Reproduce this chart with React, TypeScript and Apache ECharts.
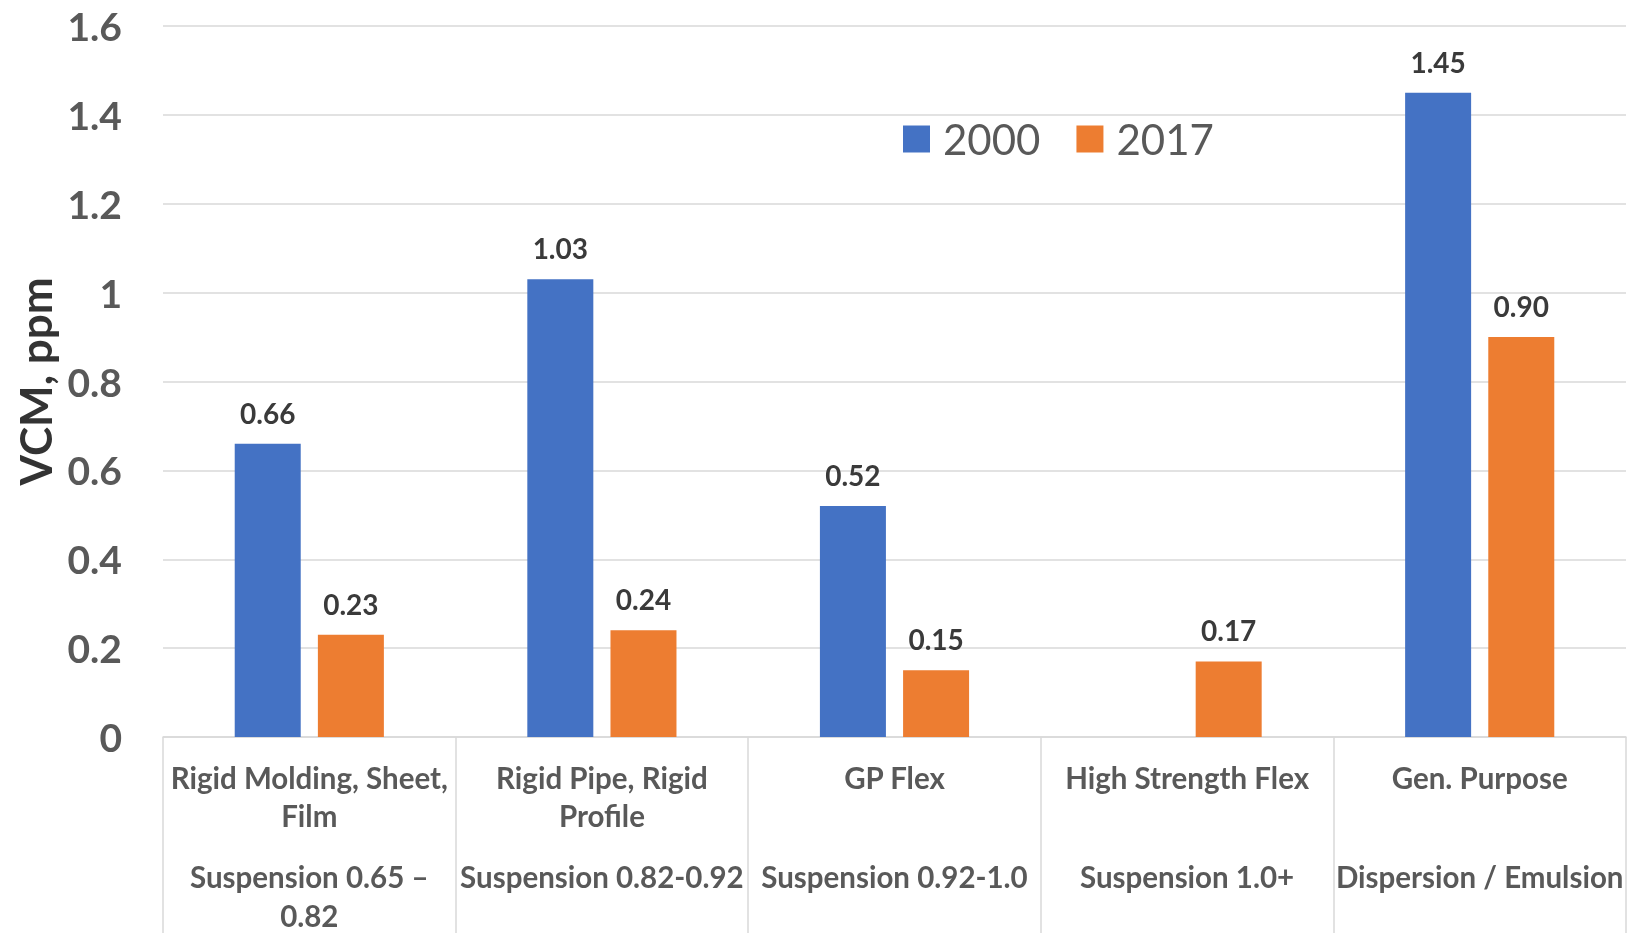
import React, { useEffect, useRef } from "react";
import * as echarts from "echarts";

const productLines: string[][] = [
  ["Rigid Molding, Sheet,", "Film"],
  ["Rigid Pipe, Rigid", "Profile"],
  ["GP Flex"],
  ["High Strength Flex"],
  ["Gen. Purpose"],
];
const processTypes: string[][] = [
  ["Suspension 0.65 –", "0.82"],
  ["Suspension 0.82-0.92"],
  ["Suspension 0.92-1.0"],
  ["Suspension 1.0+"],
  ["Dispersion / Emulsion"],
];
const series2000: (number | null)[] = [0.66, 1.03, 0.52, null, 1.45];
const series2017: (number | null)[] = [0.23, 0.24, 0.15, 0.17, 0.9];
const yTicks = { min: 0, max: 1.6, interval: 0.2 };

const FONT = "Lato";

export default function App() {
  const ref = useRef<HTMLDivElement>(null);
  useEffect(() => {
    document.body.style.margin = "0";
    if (!ref.current) return;
    const chart = echarts.init(ref.current, null, { renderer: "svg" });
    const categories = productLines.map((l) => l.join(" "));
    const labelStyle = {
      color: "#3a3a3a",
      fontFamily: FONT,
      fontWeight: "bold" as const,
      fontSize: 28,
      position: "top" as const,
      distance: 17,
      formatter: (p: any) => (p.value == null ? "" : Number(p.value).toFixed(2)),
      show: true,
    };
    chart.setOption({
      animation: false,
      grid: { left: 163, right: 6, top: 26, bottom: 196, containLabel: false, outerBoundsMode: "none" },
      legend: {
        left: 898,
        top: 113,
        itemWidth: 27,
        itemHeight: 27,
        itemGap: 36,
        textStyle: { fontFamily: FONT, fontSize: 42, color: "#595959", padding: [0, 0, 0, 8] },
        data: ["2000", "2017"],
        icon: "rect",
      },
      xAxis: {
        type: "category",
        data: categories,
        axisLine: { lineStyle: { color: "#d9d9d9", width: 1.5 } },
        axisTick: { show: true, interval: 0, length: 210, lineStyle: { color: "#d9d9d9", width: 1.5 } },
        axisLabel: {
          interval: 0,
          margin: 21,
          verticalAlign: "top",
          formatter: (_v: string, i: number) => {
            const l1 = productLines[i].slice();
            while (l1.length < 2) l1.push(" ");
            const l2 = processTypes[i];
            return [
              ...l1.map((t) => `{a|${t}}`),
              `{s| }`,
              ...l2.map((t) => `{a|${t}}`),
            ].join("\n");
          },
          rich: {
            a: { fontFamily: FONT, fontWeight: "bold", fontSize: 29.5, lineHeight: 38.5, color: "#595959" },
            s: { fontSize: 1, lineHeight: 22.5 },
          },
        },
      },
      yAxis: {
        type: "value",
        min: yTicks.min,
        max: yTicks.max,
        interval: yTicks.interval,
        name: "VCM, ppm",
        nameLocation: "middle",
        nameGap: 106,
        nameTextStyle: { fontFamily: FONT, fontWeight: "bold", fontSize: 44, color: "#333333" },
        axisLine: { show: false },
        axisTick: { show: false },
        axisLabel: { margin: 41, fontFamily: FONT, fontWeight: "bold", fontSize: 39, color: "#595959" },
        splitLine: { lineStyle: { color: "#d9d9d9", width: 1.5 } },
      },
      series: [
        {
          name: "2000",
          type: "bar",
          data: series2000,
          barWidth: 66,
          barGap: "26%",
          itemStyle: { color: "#4472C4" },
          label: labelStyle,
        },
        {
          name: "2017",
          type: "bar",
          data: series2017,
          barWidth: 66,
          barGap: "26%",
          itemStyle: { color: "#ED7D31" },
          label: labelStyle,
        },
      ],
    });
    return () => chart.dispose();
  }, []);
  return <div ref={ref} style={{ position: "fixed", left: 0, top: 0, width: 1632, height: 933 }} />;
}
